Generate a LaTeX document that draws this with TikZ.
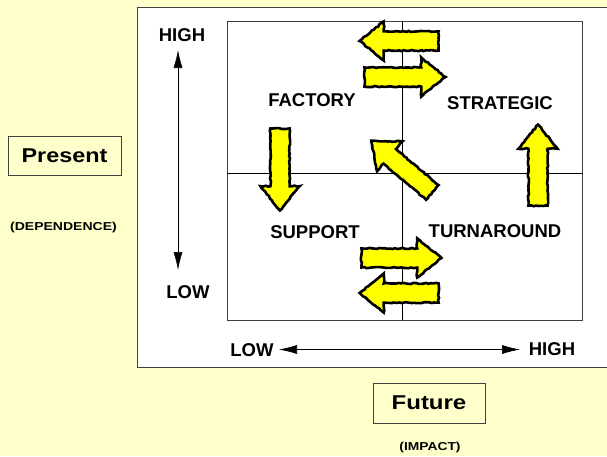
\documentclass[tikz,border=0pt]{standalone}
\usepackage{fontspec}
\setmainfont{Liberation Sans}
\usetikzlibrary{shapes.arrows,arrows.meta,decorations.pathmorphing}
\definecolor{bgyellow}{HTML}{FFFFCC}
\definecolor{arrowyellow}{HTML}{FFFF00}
\definecolor{boxline}{HTML}{404040}
\tikzset{
  lbl/.style={inner sep=0pt, font=\fontsize{18.5}{20}\selectfont\bfseries},
  small/.style={inner sep=0pt, font=\fontsize{11.5}{13}\selectfont\bfseries},
  titlebox/.style={draw=boxline, line width=0.8pt, fill=bgyellow, inner sep=0pt,
    font=\fontsize{20}{22}\selectfont\bfseries},
  bigarrow/.style={single arrow, draw=black, fill=arrowyellow, line width=2.6pt,
    inner xsep=0pt, inner ysep=8.3pt, single arrow head extend=10pt,
    single arrow tip angle=78, line join=miter,
    decorate, decoration={random steps, segment length=2.5pt, amplitude=0.6pt}},
  axis/.style={line width=0.6pt, {Latex[length=18pt,width=9pt]}-{Latex[length=18pt,width=9pt]}},
  grid/.style={line width=0.8pt, draw=black}
}
\begin{document}
\begin{tikzpicture}[x=1pt,y=-1pt]
\useasboundingbox (0,0) rectangle (607,456);
\fill[bgyellow] (0,0) rectangle (607,456);
% outer white panel
\draw[fill=white, draw=boxline, line width=0.8pt] (137.5,7) rectangle (615,367);
% matrix
\draw[grid, draw=boxline] (227,21) rectangle (582,320);
\draw[grid] (402,21) -- (402,320);
\draw[grid] (227,173) -- (582,173);

% title boxes
\node[titlebox, minimum width=113pt, minimum height=39pt] (present) at (64.5,155.5) {\scalebox{1.17}[1]{Present}};
\node[small] (dep) at (63.5,227.5) {\scalebox{1.22}[1]{(DEPENDENCE)}};
\node[titlebox, minimum width=112pt, minimum height=40pt] (future) at (429,403) {\scalebox{1.2}[1]{Future}};
\node[small] (impact) at (430,448) {\scalebox{1.2}[1]{(IMPACT)}};

% axis labels
\node[lbl] (vhigh) at (182,35) {HIGH};
\node[lbl] (vlow) at (188,292.5) {LOW};
\node[lbl] (hlow) at (252,350) {LOW};
\node[lbl] (hhigh) at (552,349) {HIGH};
\coordinate (vtop) at (178,50);
\coordinate (vbot) at (178,270);
\coordinate (hleft) at (279,349.5);
\coordinate (hright) at (520,349.5);
\draw[axis] (vtop) -- (vbot);
\draw[axis] (hleft) -- (hright);

% quadrant labels
\node[lbl] (factory) at (312,100) {FACTORY};
\node[lbl] (strategic) at (500,103) {STRATEGIC};
\node[lbl] (support) at (315,232) {SUPPORT};
\node[lbl] (turnaround) at (495,231) {TURNAROUND};

% yellow arrows
\node[bigarrow, minimum height=79pt, rotate=180] (a1) at (405,41) {};
\node[bigarrow, minimum height=81pt] (a2) at (399,77) {};
\node[bigarrow, minimum height=82pt, rotate=270] (a3) at (280,163.5) {};
\node[bigarrow, minimum height=80pt, rotate=139.7] (a4) at (406.3,170.4) {};
\node[bigarrow, minimum height=81pt, rotate=90] (a5) at (538,171) {};
\node[bigarrow, minimum height=80pt] (a6) at (395.5,258) {};
\node[bigarrow, minimum height=79pt, rotate=180] (a7) at (405,293) {};
\end{tikzpicture}
\end{document}
